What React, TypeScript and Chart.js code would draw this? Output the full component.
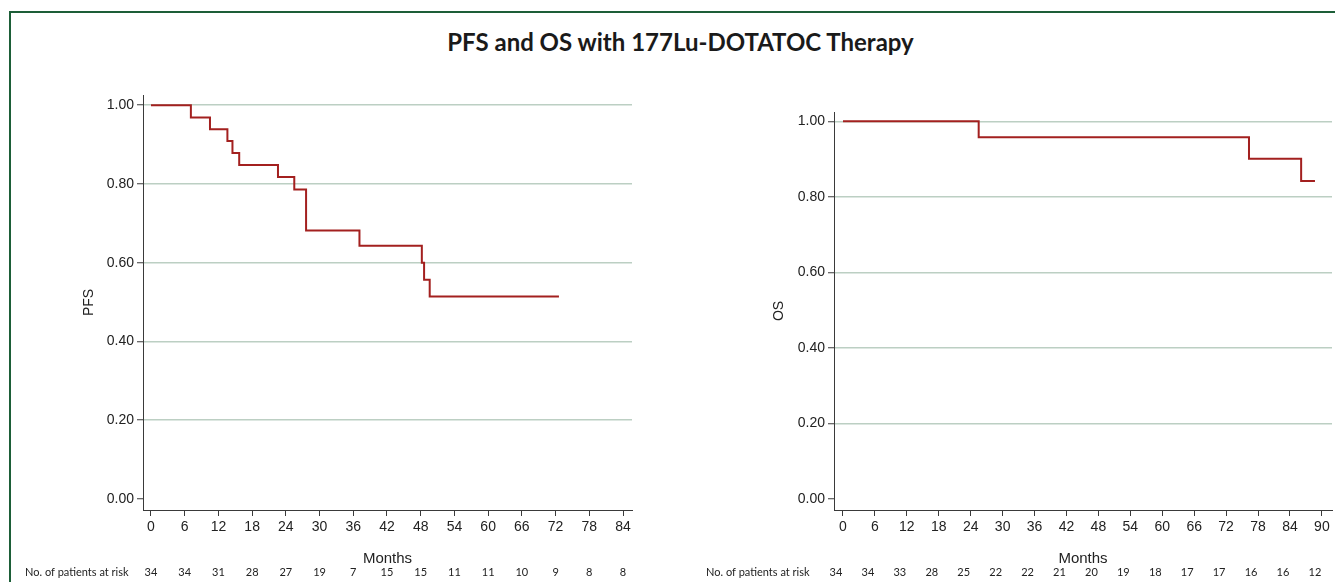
import React, { useEffect, useRef } from "react";
import { Chart, registerables } from "chart.js";

Chart.register(...registerables);

// ---- Data ----
const pfsMonths = [0, 7.1, 10.5, 13.6, 14.5, 15.7, 22.6, 25.5, 27.6, 37.1, 48.2, 48.6, 49.6, 72.6];
const pfsSurvival = [1.0, 0.969, 0.939, 0.909, 0.879, 0.848, 0.818, 0.786, 0.682, 0.643, 0.6, 0.557, 0.514, 0.514];

const osMonths = [0, 25.5, 76.3, 86.1, 88.7];
const osSurvival = [1.0, 0.958, 0.901, 0.842, 0.842];

const pfsXTicks = [0, 6, 12, 18, 24, 30, 36, 42, 48, 54, 60, 66, 72, 78, 84];
const osXTicks = [0, 6, 12, 18, 24, 30, 36, 42, 48, 54, 60, 66, 72, 78, 84, 90];
const yTicks = [0, 0.2, 0.4, 0.6, 0.8, 1.0];

const pfsAtRisk = [34, 34, 31, 28, 27, 19, 7, 15, 15, 11, 11, 10, 9, 8, 8];
const osAtRisk = [34, 34, 33, 28, 25, 22, 22, 21, 20, 19, 18, 17, 17, 16, 16, 12];

const titleText = "PFS and OS with 177Lu-DOTATOC Therapy";
const xTitle = "Months";
const riskLabel = "No. of patients at risk";

// ---- Styles ----
const LINE_COLOR = "#a3201f";
const GRID_COLOR = "#bccfc3";
const AXIS_COLOR = "#3a3a3a";
const TEXT_COLOR = "#222222";
const TICK_FONT = { family: "'Liberation Sans', Arial, sans-serif", size: 14 };

interface PanelOpts {
  months: number[];
  surv: number[];
  xTicks: number[];
  atRisk: number[];
  yLabel: string;
  xMin: number;
  xMax: number;
  yMin: number;
  yMax: number;
  padTop: number;
  padRight: number;
  yWidth: number;
  yTitlePad: number;
  riskLabelX: number;
  riskOffset: number;
}

function makeRiskPlugin(o: PanelOpts) {
  return {
    id: "riskTable",
    afterDraw(chart: any) {
      const ctx = chart.ctx;
      const xs = chart.scales.x;
      ctx.save();
      ctx.fillStyle = TEXT_COLOR;
      ctx.font = "11px Lato, 'Open Sans', sans-serif";
      ctx.textBaseline = "middle";
      ctx.textAlign = "left";
      ctx.fillText(riskLabel, o.riskLabelX, 572);
      ctx.textAlign = "center";
      o.atRisk.forEach((n, i) => {
        const px = xs.getPixelForValue(o.xTicks[i]) + o.riskOffset;
        ctx.fillText(String(n), px, 572);
      });
      ctx.restore();
    },
  };
}

function Panel({ o, left, width }: { o: PanelOpts; left: number; width: number }) {
  const ref = useRef<HTMLCanvasElement | null>(null);
  useEffect(() => {
    if (!ref.current) return;
    const chart = new Chart(ref.current, {
      type: "line",
      data: {
        datasets: [
          {
            data: o.months.map((m, i) => ({ x: m, y: o.surv[i] })),
            stepped: "before",
            borderColor: LINE_COLOR,
            borderWidth: 2,
            pointRadius: 0,
            fill: false,
          },
        ],
      },
      options: {
        responsive: false,
        animation: false,
        layout: { padding: { top: o.padTop, left: 0, right: o.padRight, bottom: 0 } },
        plugins: {
          legend: { display: false },
          tooltip: { enabled: false },
        },
        scales: {
          x: {
            type: "linear",
            min: o.xMin,
            max: o.xMax,
            afterBuildTicks: (s: any) => {
              s.ticks = o.xTicks.map((v) => ({ value: v }));
            },
            afterFit: (s: any) => {
              s.height = 582 - 510;
              s.paddingLeft = 0;
              s.paddingRight = 0;
            },
            ticks: {
              font: TICK_FONT,
              color: TEXT_COLOR,
              padding: 3,
              maxRotation: 0,
              autoSkip: false,
              callback: (v: any) => String(v),
            },
            grid: {
              drawOnChartArea: false,
              drawTicks: true,
              tickLength: 6,
              tickColor: AXIS_COLOR,
            },
            border: { color: AXIS_COLOR, width: 1 },
            title: {
              display: true,
              text: xTitle,
              color: TEXT_COLOR,
              font: { family: "'Liberation Sans', Arial, sans-serif", size: 15 },
              padding: { top: 0, bottom: 14 },
            },
          },
          y: {
            type: "linear",
            min: o.yMin,
            max: o.yMax,
            afterBuildTicks: (s: any) => {
              s.ticks = yTicks.map((v) => ({ value: v }));
            },
            afterFit: (s: any) => {
              s.width = o.yWidth;
              s.paddingTop = 0;
              s.paddingBottom = 0;
            },
            ticks: {
              font: TICK_FONT,
              color: TEXT_COLOR,
              padding: 3,
              autoSkip: false,
              callback: (v: any) => Number(v).toFixed(2),
            },
            grid: {
              color: (c: any) => (c.tick && c.tick.value === 0 ? "rgba(0,0,0,0)" : GRID_COLOR),
              lineWidth: 1.5,
              drawTicks: true,
              tickLength: 6,
              tickColor: AXIS_COLOR,
              tickWidth: 1,
            },
            border: { color: AXIS_COLOR, width: 1 },
            title: {
              display: true,
              text: o.yLabel,
              color: TEXT_COLOR,
              font: { family: "'Liberation Sans', Arial, sans-serif", size: 14 },
              padding: { top: o.yTitlePad, bottom: 0 },
            },
          },
        },
      },
      plugins: [makeRiskPlugin(o)],
    } as any);
    return () => chart.destroy();
  }, []);
  return (
    <canvas
      ref={ref}
      width={width}
      height={582}
      style={{ position: "absolute", left, top: 0, width, height: 582 }}
    />
  );
}

const pfsOpts: PanelOpts = {
  months: pfsMonths,
  surv: pfsSurvival,
  xTicks: pfsXTicks,
  atRisk: pfsAtRisk,
  yLabel: "PFS",
  xMin: -1.42,
  xMax: 85.6,
  yMin: -0.028,
  yMax: 1.026,
  padTop: 95,
  padRight: 33,
  yWidth: 143,
  yTitlePad: 81,
  riskLabelX: 25,
  riskOffset: 0,
};

const osOpts: PanelOpts = {
  months: osMonths,
  surv: osSurvival,
  xTicks: osXTicks,
  atRisk: osAtRisk,
  yLabel: "OS",
  xMin: -1.69,
  xMax: 91.9,
  yMin: -0.029,
  yMax: 1.0246,
  padTop: 112,
  padRight: 3,
  yWidth: 169,
  yTitlePad: 106,
  riskLabelX: 706 - 665,
  riskOffset: -7,
};

export default function App() {
  return (
    <div
      style={{
        position: "fixed",
        left: 0,
        top: 0,
        width: 1335,
        height: 582,
        background: "#ffffff",
        overflow: "hidden",
      }}
    >
      <div
        style={{
          position: "absolute",
          left: 9,
          top: 11,
          width: 1400,
          height: 700,
          borderTop: "2.5px solid #1d5e38",
          borderLeft: "2.5px solid #1d5e38",
        }}
      />
      <div
        style={{
          position: "absolute",
          left: 0,
          top: 27,
          width: 1361,
          textAlign: "center",
          fontFamily: "Lato, 'Open Sans', sans-serif",
          fontWeight: 700,
          fontSize: 24,
          lineHeight: "30px",
          color: "#1a1a1a",
        }}
      >
        {titleText}
      </div>
      <Panel o={pfsOpts} left={0} width={665} />
      <Panel o={osOpts} left={665} width={670} />
    </div>
  );
}
